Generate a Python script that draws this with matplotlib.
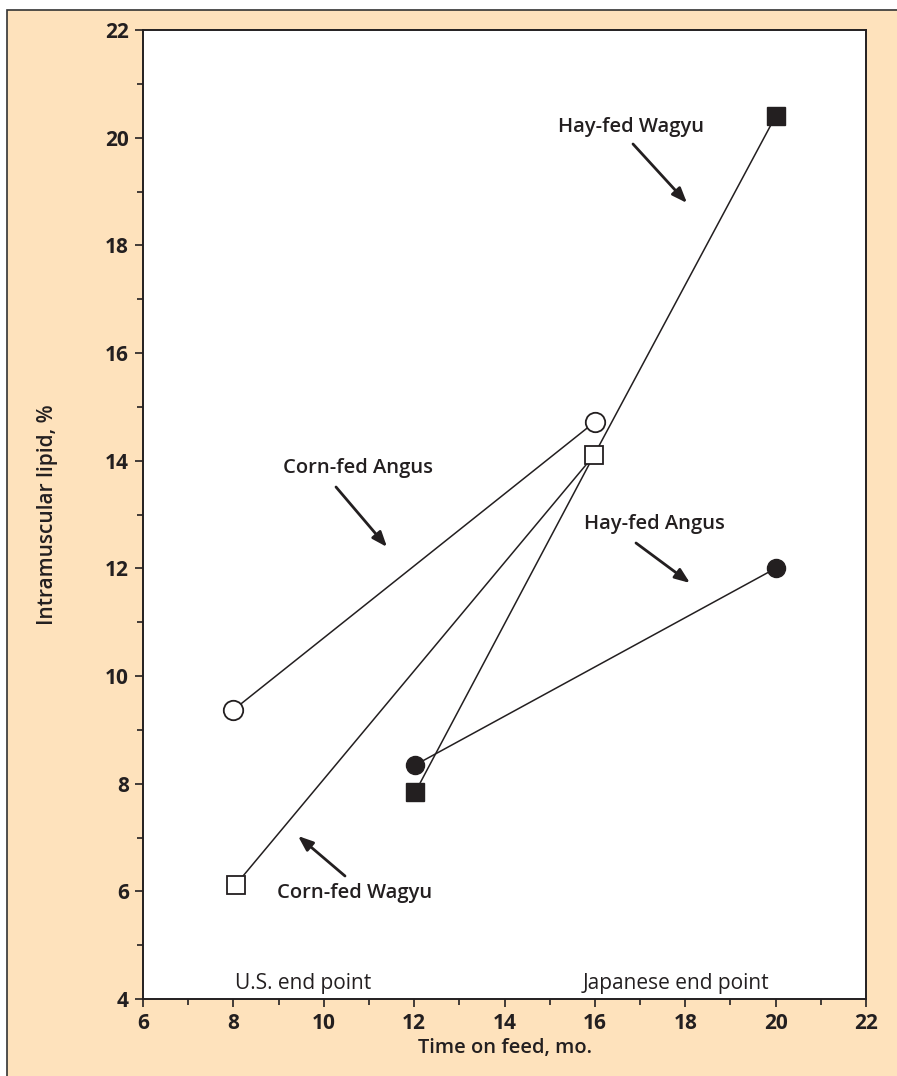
import matplotlib
matplotlib.use("Agg")
import matplotlib.pyplot as plt
from matplotlib.patches import Rectangle

plt.rcParams['font.family'] = ['Open Sans', 'DejaVu Sans']

# Data
corn_angus_x = [8, 16]
corn_angus_y = [9.37, 14.72]
corn_wagyu_x = [8.05, 15.98]
corn_wagyu_y = [6.12, 14.1]
hay_wagyu_x = [12.03, 15.98, 20]
hay_wagyu_y = [7.85, 14.1, 20.4]
hay_angus_x = [12.03, 20]
hay_angus_y = [8.35, 12.0]

x_ticks = [6, 8, 10, 12, 14, 16, 18, 20, 22]
y_ticks = [4, 6, 8, 10, 12, 14, 16, 18, 20, 22]

W, H = 897, 1076
fig = plt.figure(figsize=(W / 100, H / 100), dpi=100)
fig.patch.set_facecolor('white')
bg = Rectangle((7 / W, -0.05), 1.1, 1.05 - 10 / H, transform=fig.transFigure,
               facecolor='#FEE2BC', edgecolor='#333333', linewidth=1.2, zorder=-10)
fig.patches.append(bg)

lc = '#231f20'
ax = fig.add_axes([143 / W, 1 - 999 / H, (866 - 143) / W, (999 - 30) / H])
ax.set_zorder(5)
ax.set_facecolor('white')
ax.set_xlim(6, 22)
ax.set_ylim(4, 22)
ax.set_xticks(x_ticks, labels=[str(v) for v in x_ticks], fontweight='bold',
              fontsize=15, color=lc)
ax.set_yticks(y_ticks, labels=[str(v) for v in y_ticks], fontweight='bold',
              fontsize=15, color=lc)
ax.set_xticks(range(7, 22, 2), minor=True)
ax.set_yticks(range(5, 22, 2), minor=True)
ax.tick_params(which='major', direction='out', length=6, width=1.2,
               colors=lc, pad=4)
ax.tick_params(which='minor', direction='out', length=4, width=1.2, colors=lc)
for s in ax.spines.values():
    s.set_linewidth(1.4)
    s.set_color(lc)

lw = 1.1
ax.plot(hay_wagyu_x, hay_wagyu_y, color=lc, lw=lw, marker='s', markersize=13,
        markerfacecolor=lc, markeredgecolor=lc, markevery=[0, 2], zorder=2)
ax.plot(hay_angus_x, hay_angus_y, color=lc, lw=lw, marker='o', markersize=13,
        markerfacecolor=lc, markeredgecolor=lc, zorder=2)
ax.plot(corn_angus_x, corn_angus_y, color=lc, lw=lw, marker='o', markersize=14,
        markerfacecolor='white', markeredgecolor=lc, markeredgewidth=1.3, zorder=3)
ax.plot(corn_wagyu_x, corn_wagyu_y, color=lc, lw=lw, marker='s', markersize=13,
        markerfacecolor='white', markeredgecolor=lc, markeredgewidth=1.3, zorder=3)

ax.set_xlabel('Time on feed, mo.', fontsize=14.5, fontweight='semibold', color=lc, labelpad=3)
ax.set_ylabel('Intramuscular lipid, %', fontsize=15, fontweight='semibold', color=lc, labelpad=34)


def px(x, y):
    # pixel -> data
    return (6 + (x - 143) / (866 - 143) * 16, 4 + (999 - y) / (999 - 30) * 18)


ann_kw = dict(fontsize=14.5, fontweight='semibold', color=lc, ha='center', va='center')
arrow_kw = dict(arrowstyle='-|>,head_length=0.9,head_width=0.35', color=lc, lw=2.0,
                shrinkA=0, shrinkB=0)

ax.text(*px(631, 127), 'Hay-fed Wagyu', **ann_kw)
ax.annotate('', xy=px(687, 203), xytext=px(633, 144), arrowprops=arrow_kw)

ax.text(*px(358, 468), 'Corn-fed Angus', **ann_kw)
ax.annotate('', xy=px(387, 547), xytext=px(336, 487), arrowprops=arrow_kw)

ax.text(*px(654, 524), 'Hay-fed Angus', **ann_kw)
ax.annotate('', xy=px(690, 583), xytext=px(636, 543), arrowprops=arrow_kw)

ax.text(*px(355, 893), 'Corn-fed Wagyu', **ann_kw)
ax.annotate('', xy=px(298, 836), xytext=px(345, 876), arrowprops=arrow_kw)

ax.text(*px(303, 983), 'U.S. end point', fontsize=15, color=lc, ha='center', va='center')
ax.text(*px(676, 983), 'Japanese end point', fontsize=15, color=lc, ha='center', va='center')

fig.savefig('out.png', dpi=100)
